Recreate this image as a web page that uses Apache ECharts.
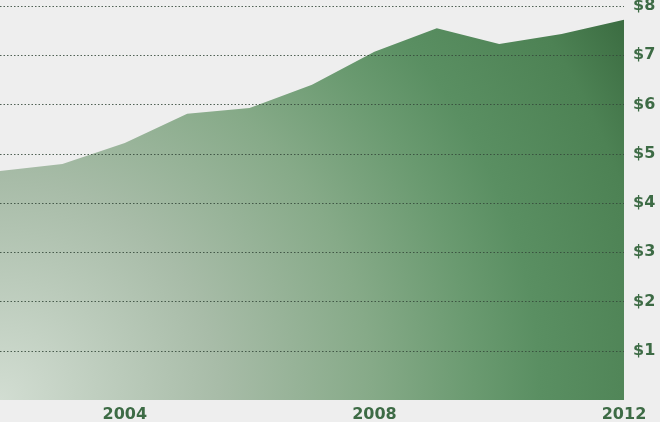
<!DOCTYPE html>
<html><head><meta charset="utf-8">
<script src="https://cdn.jsdelivr.net/npm/echarts@6/dist/echarts.min.js"></script>
<style>html,body{margin:0;padding:0;background:#eeeeee;}#c{width:660px;height:422px;}</style>
</head><body><div id="c"></div>
<script>
const years = ['2002','2003','2004','2005','2006','2007','2008','2009','2010','2011','2012'];
const values = [4.65, 4.79, 5.22, 5.81, 5.93, 6.40, 7.07, 7.55, 7.23, 7.43, 7.72];
const yTicks = [1,2,3,4,5,6,7,8];
const shownYears = ['2004','2008','2012'];

const chart = echarts.init(document.getElementById('c'));
const labelColor = '#3d6b45';
const gridLine = {color: '#34483a', type: [1.5, 2], width: 1, opacity: 0.85};
chart.setOption({
  backgroundColor: '#eeeeee',
  animation: false,
  grid: {left: 0, right: 36, top: 6, bottom: 22, containLabel: false, outerBoundsMode: 'none'},
  xAxis: {
    type: 'category', data: years, boundaryGap: false,
    axisLine: {show: false}, axisTick: {show: false},
    splitLine: {show: false},
    axisLabel: {
      interval: 0, margin: 7,
      color: labelColor, fontFamily: 'DejaVu Sans', fontWeight: 'bold', fontSize: 16,
      formatter: v => shownYears.includes(v) ? v : ''
    }
  },
  yAxis: {
    type: 'value', position: 'right', min: 0, max: 8, interval: 1,
    axisLine: {show: false}, axisTick: {show: false},
    splitLine: {show: false},
    axisLabel: {
      margin: 9, color: labelColor, fontFamily: 'DejaVu Sans', fontWeight: 'bold', fontSize: 16,
      formatter: v => yTicks.includes(v) ? '$' + v : ''
    }
  },
  series: [{
    type: 'line', data: values, symbol: 'none',
    lineStyle: {width: 0},
    areaStyle: {
      opacity: 1,
      color: new echarts.graphic.RadialGradient(0, 1, 1.92, [
        {offset: 0, color: '#d2ddd2'},
        {offset: 0.3, color: '#a8bca8'},
        {offset: 0.51, color: '#86aa88'},
        {offset: 0.65, color: '#6a9a70'},
        {offset: 0.74, color: '#5a8f62'},
        {offset: 0.9, color: '#4d8254'},
        {offset: 1, color: '#3b6c41'}
      ])
    },
    markLine: {
      silent: true, symbol: 'none', animation: false,
      label: {show: false},
      lineStyle: gridLine,
      emphasis: {disabled: true},
      data: yTicks.map(v => ({yAxis: v}))
    }
  }]
});
</script></body></html>
